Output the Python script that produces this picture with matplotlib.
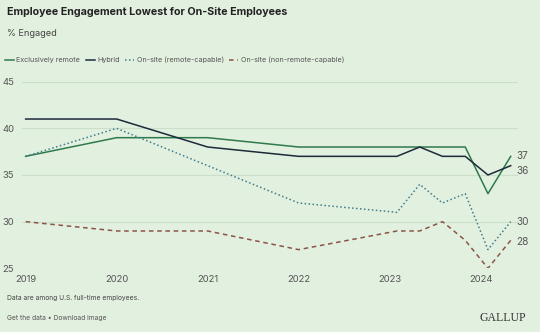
import matplotlib.pyplot as plt

# ------------ Data ------------
years = [2019, 2020, 2021, 2022, 2023.08, 2023.33, 2023.58, 2023.83, 2024.08, 2024.33]
remote = [37, 39, 39, 38, 38, 38, 38, 38, 33, 37]
hybrid = [41, 41, 38, 37, 37, 38, 37, 37, 35, 36]
onsite_capable = [37, 40, 36, 32, 31, 34, 32, 33, 27, 30]
onsite_noncapable = [30, 29, 29, 27, 29, 29, 30, 28, 25, 28]

series_names = ["Exclusively remote", "Hybrid", "On-site (remote-capable)",
                "On-site (non-remote-capable)"]
xticks = [2019, 2020, 2021, 2022, 2023, 2024]
yticks = [25, 30, 35, 40, 45]

# ------------ Styles ------------
BG = "#e2f0df"
GRID = "#cbe0c8"
TXT = "#555555"
colors = ["#2f7a4c", "#1d2a3b", "#3f7c8c", "#8c5446"]
styles = ["-", "-", (0, (1, 1.6)), (0, (3, 2.4))]
FONT = "Inter"

fig = plt.figure(figsize=(5.4, 3.32), dpi=100, facecolor=BG)
ax = fig.add_axes([22 / 540, 1 - 268.3 / 332, 496 / 540, 186.6 / 332])
ax.set_facecolor(BG)

all_series = [remote, hybrid, onsite_capable, onsite_noncapable]
for vals, c, ls, name in zip(all_series, colors, styles, series_names):
    ax.plot(years, vals, color=c, ls=ls, lw=1.1, label=name, zorder=3)

ax.set_xlim(2018.96, 2024.41)
ax.set_ylim(25, 45)
ax.set_yticks(yticks)
ax.set_xticks(xticks)
ax.set_xticklabels([str(y) for y in xticks])
ax.grid(axis="y", color=GRID, lw=0.8)
ax.set_axisbelow(True)
for s in ax.spines.values():
    s.set_visible(False)
ax.tick_params(length=0, labelsize=6.8, labelcolor=TXT)
for lbl in ax.get_xticklabels() + ax.get_yticklabels():
    lbl.set_family(FONT)
ax.tick_params(axis="x", pad=5)
for lbl in ax.get_yticklabels():
    lbl.set_horizontalalignment("center")
ax.yaxis.set_tick_params(pad=10)

# end labels (36 nudged down to avoid overlap with 37)
nudges = [0, -4, 0, -1]
for vals, dy in zip(all_series, nudges):
    ax.annotate(str(vals[-1]), (years[-1], vals[-1]), xytext=(4, dy),
                textcoords="offset points", va="center", ha="left",
                fontsize=7.2, color=TXT, family=FONT, annotation_clip=False)

# ------------ Titles & legend ------------
fig.text(7 / 540, 1 - 12 / 332, "Employee Engagement Lowest for On-Site Employees",
         fontsize=7.7, weight="bold", color="#222222", family=FONT, va="center")
fig.text(7 / 540, 1 - 34 / 332, "% Engaged", fontsize=6.6, color="#444444",
         family=FONT, va="center")

handles, labels = ax.get_legend_handles_labels()
leg = fig.legend(handles, labels, loc="center left", bbox_to_anchor=(0.0, 1 - 60 / 332),
                 ncol=4, frameon=False, handlelength=1.2, handletextpad=0.35,
                 columnspacing=0.8, borderaxespad=0.3,
                 prop={"family": FONT, "size": 5.2})
for t in leg.get_texts():
    t.set_color(TXT)

# ------------ Footer ------------
fig.text(7 / 540, 1 - 298 / 332, "Data are among U.S. full-time employees.",
         fontsize=4.8, color="#444444", family=FONT, va="center")
fig.text(7 / 540, 1 - 318 / 332, "Get the data \u2022 Download image",
         fontsize=4.8, color="#555555", family=FONT, va="center")
fig.text(526 / 540, 1 - 318 / 332, "GALLUP", fontsize=8.5, color="#333333",
         family="Liberation Serif", va="center", ha="right")

fig.savefig("out.png", dpi=100, facecolor=BG)
